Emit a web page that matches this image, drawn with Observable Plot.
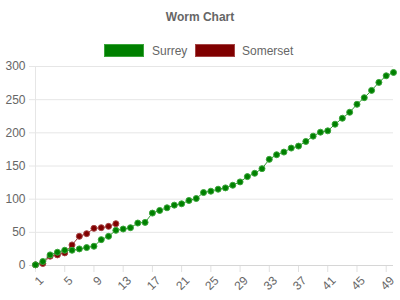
<!DOCTYPE html>
<html>
<head>
<meta charset="utf-8">
<script src="https://cdn.jsdelivr.net/npm/d3@7"></script>
<script src="https://cdn.jsdelivr.net/npm/@observablehq/plot@0.6"></script>
<style>
  html, body { margin: 0; padding: 0; background: #fff; }
  #wrap { position: relative; width: 400px; height: 300px; font-family: "Liberation Sans", Arial, Helvetica, sans-serif; color: #666; }
  #title { position: absolute; left: 0; top: 10px; width: 400px; text-align: center; font-size: 12px; line-height: 14px; font-weight: bold; }
  .box { position: absolute; top: 44px; width: 40px; height: 13px; box-sizing: border-box; border: 1px solid; }
  .lab { position: absolute; top: 44px; font-size: 12px; line-height: 14px; white-space: nowrap; }
  #chart { position: absolute; left: 0; top: 60px; }
</style>
</head>
<body>
<div id="wrap">
  <div id="title"></div>
  <div class="box" id="box0" style="left:104px"></div>
  <div class="lab" id="lab0" style="left:152px"></div>
  <div class="box" id="box1" style="left:195px"></div>
  <div class="lab" id="lab1" style="left:242px"></div>
  <div id="chart"></div>
</div>
<script>
const title = "Worm Chart";
const seriesNames = ["Surrey", "Somerset"];
const seriesColors = ["#008000", "#800000"];
const seriesEdges = ["#3aa53a", "#a54444"];
const surreyRuns = [1, 6, 16, 20, 23, 23, 25, 27, 29, 39, 44, 53, 55, 57, 64, 65, 79, 83, 87, 91,
  93, 98, 101, 110, 112, 115, 117, 121, 126, 134, 139, 146, 160, 167, 171, 177, 180, 187, 195, 201,
  203, 213, 222, 231, 243, 253, 264, 276, 286, 291];
const somersetRuns = [1, 3, 14, 16, 19, 31, 44, 48, 56, 57, 59, 63];
const xTicks = [1, 5, 9, 13, 17, 21, 25, 29, 33, 37, 41, 45, 49];
const yTicks = [0, 50, 100, 150, 200, 250, 300];

document.getElementById("title").textContent = title;
seriesNames.forEach((n, i) => {
  const b = document.getElementById("box" + i);
  b.style.background = seriesColors[i];
  b.style.borderColor = seriesEdges[i];
  document.getElementById("lab" + i).textContent = n;
});

const surrey = surreyRuns.map((v, i) => ({over: i + 1, runs: v}));
const somerset = somersetRuns.map((v, i) => ({over: i + 1, runs: v}));

const chart = Plot.plot({
  width: 400,
  height: 240,
  marginTop: 6,
  marginBottom: 35,
  marginLeft: 35,
  marginRight: 7,
  style: {fontFamily: "Liberation Sans, Arial, sans-serif", fontSize: "12px", background: "transparent"},
  x: {domain: [1, 50]},
  y: {domain: [0, 300]},
  marks: [
    Plot.ruleY(yTicks.slice(1), {y: d => d, stroke: "#e6e6e6", insetLeft: -6}),
    Plot.ruleX([1], {x: d => d, stroke: "#e6e6e6", insetBottom: -7}),
    Plot.ruleX(xTicks.slice(1), {x: d => d, y1: 0, y2: 0, stroke: "#e0e0e0", insetBottom: -7}),
    Plot.ruleY([0], {y: d => d, stroke: "#d6d6d6", insetLeft: -6}),
    Plot.axisX({ticks: xTicks, tickSize: 0, tickPadding: 2, tickRotate: -45, fill: "#666", fontSize: 12, label: null, dx: 6, dy: 11}),
    Plot.axisY({ticks: yTicks, tickSize: 0, tickPadding: 10, fill: "#666", fontSize: 12, label: null}),
    Plot.line(somerset, {x: "over", y: "runs", stroke: seriesColors[1], strokeWidth: 1, strokeOpacity: 0.8}),
    Plot.dot(somerset, {x: "over", y: "runs", r: 3, fill: seriesColors[1], stroke: seriesEdges[1], strokeWidth: 1}),
    Plot.line(surrey, {x: "over", y: "runs", stroke: seriesColors[0], strokeWidth: 1, strokeOpacity: 0.8}),
    Plot.dot(surrey, {x: "over", y: "runs", r: 3, fill: seriesColors[0], stroke: seriesEdges[0], strokeWidth: 1})
  ]
});
document.getElementById("chart").appendChild(chart);
</script>
</body>
</html>
